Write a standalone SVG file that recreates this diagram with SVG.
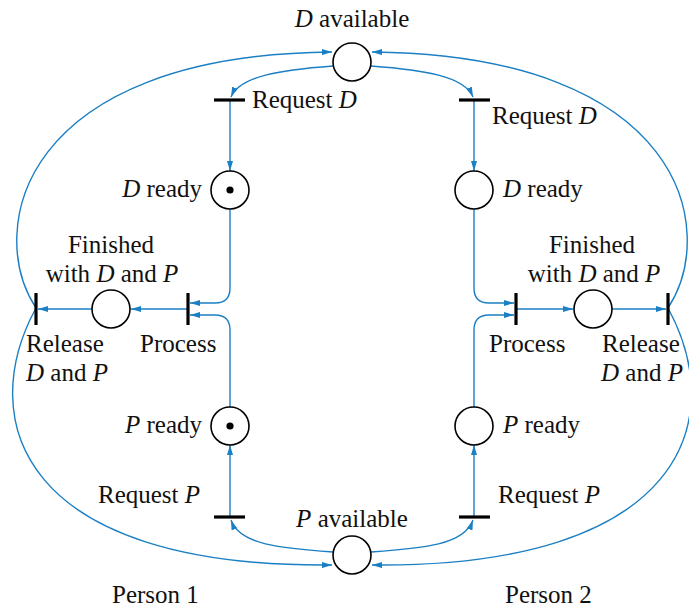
<svg xmlns="http://www.w3.org/2000/svg" width="689" height="608" viewBox="0 0 689 608">
<style>
.c{fill:none;stroke:#1b7fc4;stroke-width:1.4}
.a{marker-end:url(#ah)}
.pl{fill:#fff;stroke:#000;stroke-width:1.6}
.tr{stroke:#000;stroke-width:3.2}
.tk{fill:#000}
text{font-family:"Liberation Serif","Times New Roman",serif;font-size:25px;fill:#111}
.i{font-style:italic}
.m{text-anchor:middle}
.e{text-anchor:end}
</style>
<defs>
<marker id="ah" viewBox="0 0 10 6" refX="10" refY="3" markerWidth="10" markerHeight="6" markerUnits="userSpaceOnUse" orient="auto">
<path d="M0,0 L10,3 L0,6 z" fill="#1b7fc4"/>
</marker>
</defs>
<g id="connectors">
<path class="c a" d="M36,308 C-15,230 20,55 332,52"/>
<path class="c a" d="M36,308 C-25,420 20,568 332,565"/>
<path class="c a" d="M668,308 C719,230 684,55 372,52"/>
<path class="c a" d="M668,308 C729,420 684,568 372,565"/>
<path class="c a" d="M333,66 C280,70 240,76 231,97"/>
<path class="c a" d="M371,66 C424,70 464,76 473,97"/>
<path class="c a" d="M333,552 C280,548 240,545 231,520"/>
<path class="c a" d="M371,552 C424,548 464,545 473,520"/>
<path class="c a" d="M230,100 L230,171"/>
<path class="c a" d="M474,100 L474,171"/>
<path class="c a" d="M230,517 L230,445"/>
<path class="c a" d="M474,517 L474,445"/>
<path class="c a" d="M230,209 L230,288 Q230,303 215,303 L190,303"/>
<path class="c a" d="M230,407 L230,330 Q230,315 215,315 L190,315"/>
<path class="c a" d="M474,209 L474,288 Q474,303 489,303 L514,303"/>
<path class="c a" d="M474,407 L474,330 Q474,315 489,315 L514,315"/>
<path class="c a" d="M188,309 L131,309"/>
<path class="c a" d="M92,309 L38,309"/>
<path class="c a" d="M516,309 L573,309"/>
<path class="c a" d="M612,309 L666,309"/>
</g>
<g id="D_available"><circle class="pl" cx="352" cy="62" r="19"/><text class="m" x="352" y="27"><tspan class="i">D</tspan> available</text></g>
<g id="P_available"><circle class="pl" cx="352" cy="555" r="19"/><text class="m" x="352" y="527"><tspan class="i">P</tspan> available</text></g>
<g id="request_D_1"><line class="tr" x1="214" y1="100" x2="245" y2="100"/><text x="252" y="108">Request <tspan class="i">D</tspan></text></g>
<g id="request_D_2"><line class="tr" x1="459" y1="100" x2="490" y2="100"/><text x="492" y="124">Request <tspan class="i">D</tspan></text></g>
<g id="D_ready_1"><circle class="pl" cx="230" cy="190" r="19"/><circle class="tk" cx="230" cy="190" r="3.6"/><text class="e" x="202" y="197"><tspan class="i">D</tspan> ready</text></g>
<g id="D_ready_2"><circle class="pl" cx="474" cy="190" r="19"/><text x="503" y="197"><tspan class="i">D</tspan> ready</text></g>
<g id="process_1"><line class="tr" x1="188" y1="293" x2="188" y2="325"/><text x="140" y="352">Process</text></g>
<g id="process_2"><line class="tr" x1="516" y1="293" x2="516" y2="325"/><text x="489" y="352">Process</text></g>
<g id="finished_1"><circle class="pl" cx="111" cy="309" r="19"/><text class="m" x="111" y="253">Finished</text><text class="m" x="112" y="282">with <tspan class="i">D</tspan> and <tspan class="i">P</tspan></text></g>
<g id="finished_2"><circle class="pl" cx="593" cy="309" r="19"/><text class="m" x="592" y="253">Finished</text><text class="m" x="594" y="282">with <tspan class="i">D</tspan> and <tspan class="i">P</tspan></text></g>
<g id="release_1"><line class="tr" x1="36" y1="293" x2="36" y2="325"/><text x="26" y="352">Release</text><text x="26" y="381"><tspan class="i">D</tspan> and <tspan class="i">P</tspan></text></g>
<g id="release_2"><line class="tr" x1="668" y1="293" x2="668" y2="325"/><text x="602" y="352">Release</text><text x="601" y="381"><tspan class="i">D</tspan> and <tspan class="i">P</tspan></text></g>
<g id="P_ready_1"><circle class="pl" cx="230" cy="426" r="19"/><circle class="tk" cx="230" cy="426" r="3.6"/><text class="e" x="202" y="433"><tspan class="i">P</tspan> ready</text></g>
<g id="P_ready_2"><circle class="pl" cx="474" cy="426" r="19"/><text x="503" y="433"><tspan class="i">P</tspan> ready</text></g>
<g id="request_P_1"><line class="tr" x1="214" y1="517" x2="245" y2="517"/><text x="98" y="503">Request <tspan class="i">P</tspan></text></g>
<g id="request_P_2"><line class="tr" x1="459" y1="517" x2="490" y2="517"/><text x="498" y="503">Request <tspan class="i">P</tspan></text></g>
<g id="labels"><text x="112" y="603">Person 1</text><text x="505" y="603">Person 2</text></g>
</svg>
